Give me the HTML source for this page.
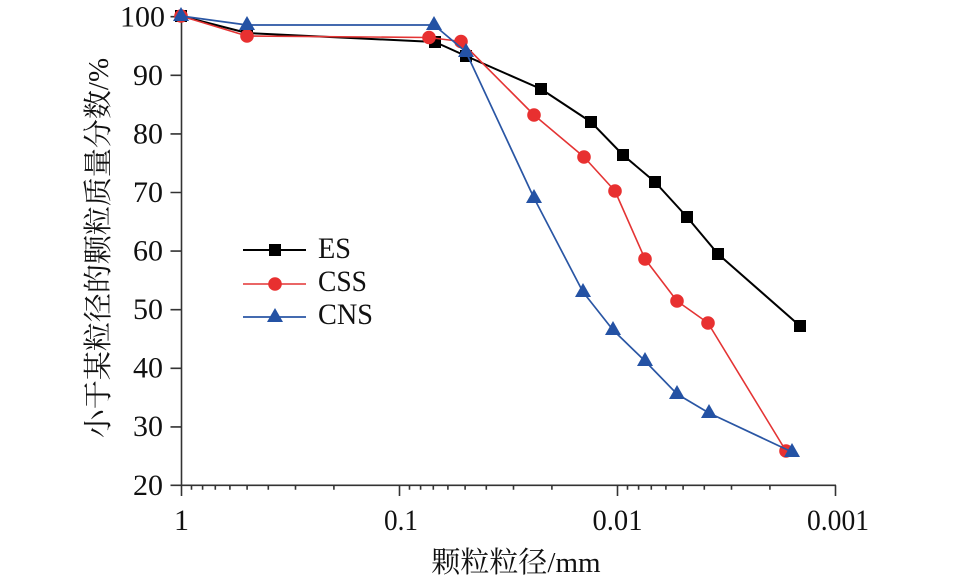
<!DOCTYPE html>
<html>
<head>
<meta charset="utf-8">
<style>
  html,body{margin:0;padding:0;background:#fff;}
  body{width:957px;height:583px;overflow:hidden;}
  svg{display:block;}
  .tk{font-family:"Liberation Serif","Noto Serif CJK SC",serif;font-size:30px;fill:#111;}
  .cj{font-family:"Liberation Serif","Noto Serif CJK SC",serif;font-size:29px;fill:#111;}
</style>
</head>
<body>
<svg width="957" height="583" viewBox="0 0 957 583" xmlns="http://www.w3.org/2000/svg">
  <rect width="957" height="583" fill="#fff"/>

  <!-- axes -->
  <g stroke="#333" stroke-width="1.6" fill="none">
    <line x1="181.5" y1="15.5" x2="181.5" y2="496"/>
    <line x1="170.5" y1="485.3" x2="836" y2="485.3"/>
    <!-- y ticks -->
    <path d="M170.5 16.7H181.5 M170.5 75.3H181.5 M170.5 133.9H181.5 M170.5 192.5H181.5 M170.5 251.1H181.5 M170.5 309.7H181.5 M170.5 368.3H181.5 M170.5 426.9H181.5"/>
    <!-- x major ticks -->
    <path d="M399.5 485.3V496 M617.5 485.3V496 M835.5 485.3V496"/>
    <!-- x minor ticks -->
    <path d="M191.5 485.3v4.5 M202.6 485.3v4.5 M215.3 485.3v4.5 M229.9 485.3v4.5 M247.1 485.3v4.5 M268.3 485.3v4.5 M295.5 485.3v4.5 M333.9 485.3v4.5
             M409.5 485.3v4.5 M420.6 485.3v4.5 M433.3 485.3v4.5 M447.9 485.3v4.5 M465.1 485.3v4.5 M486.3 485.3v4.5 M513.5 485.3v4.5 M551.9 485.3v4.5
             M627.5 485.3v4.5 M638.6 485.3v4.5 M651.3 485.3v4.5 M665.9 485.3v4.5 M683.1 485.3v4.5 M704.3 485.3v4.5 M731.5 485.3v4.5 M769.9 485.3v4.5"/>
  </g>

  <!-- y tick labels -->
  <g class="tk" text-anchor="end">
    <text x="165" y="26.5">100</text>
    <text x="163" y="85">90</text>
    <text x="163" y="143.5">80</text>
    <text x="163" y="202">70</text>
    <text x="163" y="260.5">60</text>
    <text x="163" y="319">50</text>
    <text x="163" y="377.5">40</text>
    <text x="163" y="436">30</text>
    <text x="163" y="495">20</text>
  </g>

  <!-- x tick labels -->
  <g class="tk" text-anchor="middle">
    <text x="181.5" y="530">1</text>
    <text x="401" y="530" textLength="34" lengthAdjust="spacingAndGlyphs">0.1</text>
    <text x="617.5" y="530" textLength="50" lengthAdjust="spacingAndGlyphs">0.01</text>
    <text x="838" y="530" textLength="62" lengthAdjust="spacingAndGlyphs">0.001</text>
  </g>

  <!-- axis titles -->
  <text class="cj" x="516" y="572" text-anchor="middle">颗粒粒径/mm</text>
  <text class="cj" transform="translate(108,248) rotate(-90)" x="0" y="0" text-anchor="middle">小于某粒径的颗粒质量分数/%</text>

  <!-- ES -->
  <polyline fill="none" stroke="#000" stroke-width="2" stroke-linejoin="round"
    points="181,16 247,33 435,42 466,56 541,89 591,122 623,155 655,182 687,217 718,254 800,326"/>
  <g fill="#000">
    <rect x="175" y="10" width="12" height="12"/>
    <rect x="241" y="27" width="12" height="12"/>
    <rect x="429" y="36" width="12" height="12"/>
    <rect x="460" y="50" width="12" height="12"/>
    <rect x="535" y="83" width="12" height="12"/>
    <rect x="585" y="116" width="12" height="12"/>
    <rect x="617" y="149" width="12" height="12"/>
    <rect x="649" y="176" width="12" height="12"/>
    <rect x="681" y="211" width="12" height="12"/>
    <rect x="712" y="248" width="12" height="12"/>
    <rect x="794" y="320" width="12" height="12"/>
  </g>

  <!-- CSS -->
  <polyline fill="none" stroke="#e43434" stroke-width="1.6" stroke-linejoin="round"
    points="181,16 247,36 429,37.5 461,41.5 534,115 584,157 615,191 645,259 677,301 708,323 786,451"/>
  <g fill="#e83030">
    <circle cx="181" cy="16" r="6.8"/>
    <circle cx="247" cy="36" r="6.8"/>
    <circle cx="429" cy="37.5" r="6.8"/>
    <circle cx="461" cy="41.5" r="6.8"/>
    <circle cx="534" cy="115" r="6.8"/>
    <circle cx="584" cy="157" r="6.8"/>
    <circle cx="615" cy="191" r="6.8"/>
    <circle cx="645" cy="259" r="6.8"/>
    <circle cx="677" cy="301" r="6.8"/>
    <circle cx="708" cy="323" r="6.8"/>
    <circle cx="786" cy="451" r="6.8"/>
  </g>

  <!-- CNS -->
  <polyline fill="none" stroke="#2a56a4" stroke-width="1.7" stroke-linejoin="round"
    points="181,16 247,25 434,25 466,52 534,198 583,292 613,330 645,361 677,394 709,413 792,452"/>
  <g fill="#2452a4">
    <polygon points="181,7 173,21 189,21"/>
    <polygon points="247,16 239,30 255,30"/>
    <polygon points="434,16 426,30 442,30"/>
    <polygon points="466,43 458,57 474,57"/>
    <polygon points="534,189 526,203 542,203"/>
    <polygon points="583,283 575,297 591,297"/>
    <polygon points="613,321 605,335 621,335"/>
    <polygon points="645,352 637,366 653,366"/>
    <polygon points="677,385 669,399 685,399"/>
    <polygon points="709,404 701,418 717,418"/>
    <polygon points="792,443 784,457 800,457"/>
  </g>

  <!-- legend -->
  <line x1="243" y1="250" x2="306" y2="250" stroke="#000" stroke-width="2"/>
  <rect x="269" y="244" width="12" height="12" fill="#000"/>
  <line x1="243" y1="284" x2="306" y2="284" stroke="#e43434" stroke-width="1.6"/>
  <circle cx="275" cy="284" r="6.8" fill="#e83030"/>
  <line x1="243" y1="317" x2="306" y2="317" stroke="#2a56a4" stroke-width="1.7"/>
  <polygon points="275,308 267,322 283,322" fill="#2452a4"/>

  <g class="tk">
    <text x="318" y="258" textLength="33" lengthAdjust="spacingAndGlyphs">ES</text>
    <text x="318" y="291" textLength="49" lengthAdjust="spacingAndGlyphs">CSS</text>
    <text x="318" y="324" textLength="55" lengthAdjust="spacingAndGlyphs">CNS</text>
  </g>
</svg>
</body>
</html>
